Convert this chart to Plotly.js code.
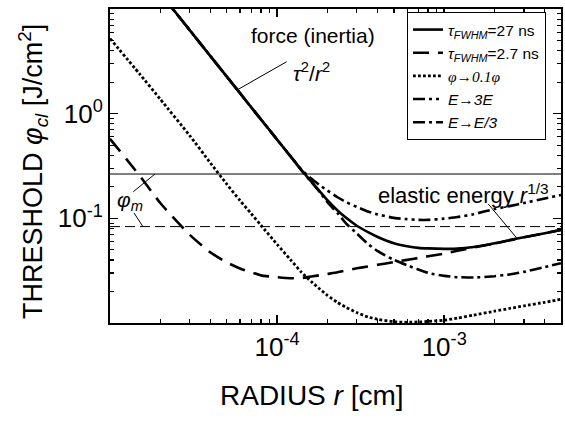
<!DOCTYPE html>
<html>
<head>
<meta charset="utf-8">
<script src="https://cdn.plot.ly/plotly-3.0.1.min.js"></script>
<style>html,body{margin:0;padding:0;background:#fff;}#chart{width:565px;height:421px;}</style>
</head>
<body>
<div id="chart"></div>
<script>
// Radius r [cm]
const radius = [1e-5, 1.5e-5, 2e-5, 3e-5, 4e-5, 5e-5, 6e-5, 7e-5, 8e-5, 1e-4, 1.2e-4, 1.4e-4, 1.6e-4, 1.8e-4, 2e-4, 2.3e-4, 2.6e-4, 3e-4, 3.5e-4, 4e-4, 5e-4, 6e-4, 7e-4, 8e-4, 1e-3, 1.2e-3, 1.5e-3, 2e-3, 2.5e-3, 3e-3, 4e-3, 5e-3];
// Threshold fluence [J/cm^2]
const phiTau27 = [null, 25.1, 14.1, 6.28, 3.53, 2.26, 1.57, 1.15, 0.883, 0.565, 0.393, 0.288, 0.225, 0.181, 0.149, 0.119, 0.1005, 0.0849, 0.0738, 0.0664, 0.0579, 0.0542, 0.0522, 0.0516, 0.0511, 0.0513, 0.0533, 0.0577, 0.0623, 0.0661, 0.0721, 0.0776];
const phiTau2_7 = [0.575, 0.257, 0.140, 0.0695, 0.0471, 0.0379, 0.0332, 0.0305, 0.0285, 0.0274, 0.0268, 0.0269, 0.0278, 0.0286, 0.0294, 0.0305, 0.0318, 0.0333, 0.0347, 0.0360, 0.0382, 0.0401, 0.0418, 0.0434, 0.0460, 0.0489, 0.0525, 0.0575, 0.0619, 0.0659, 0.0720, 0.0775];
const phiTenth = [5.22, 2.41, 1.374, 0.617, 0.336, 0.212, 0.148, 0.1107, 0.0859, 0.0564, 0.0404, 0.0305, 0.0249, 0.0211, 0.01837, 0.0157, 0.01406, 0.01259, 0.01140, 0.01084, 0.01028, 0.01016, 0.01023, 0.01035, 0.01064, 0.01112, 0.01189, 0.01297, 0.01384, 0.01456, 0.01578, 0.01683];
const phiE3E = [null, 25.1, 14.1, 6.28, 3.53, 2.26, 1.57, 1.15, 0.883, 0.565, 0.395, 0.292, 0.240, 0.207, 0.1845, 0.159, 0.142, 0.1285, 0.116, 0.109, 0.101, 0.0982, 0.0966, 0.0966, 0.0993, 0.1028, 0.1096, 0.1227, 0.1315, 0.140, 0.155, 0.167];
const phiEE3 = [null, 25.1, 14.1, 6.28, 3.53, 2.26, 1.57, 1.15, 0.883, 0.565, 0.393, 0.287, 0.223, 0.178, 0.143, 0.112, 0.0887, 0.0716, 0.0569, 0.0486, 0.0401, 0.0356, 0.0324, 0.0301, 0.0282, 0.0274, 0.0272, 0.0280, 0.0292, 0.0308, 0.0342, 0.0373];
// melting thresholds phi_m
const phiM27 = 0.265;
const phiM2_7 = 0.0834;
// axis
const xRange = [1e-5, 5e-3];
const yRange = [0.01, 10];
const xTickVals = [1e-4, 1e-3];
const xTickText = ['10<sup>-4</sup>', '10<sup>-3</sup>'];
const yTickVals = [1, 0.1];
const yTickText = ['10<sup>0</sup>', '10<sup>-1</sup>'];
const xMinor = [2e-5,3e-5,4e-5,5e-5,6e-5,7e-5,8e-5,9e-5,2e-4,3e-4,4e-4,5e-4,6e-4,7e-4,8e-4,9e-4,2e-3,3e-3,4e-3];
const yMinor = [0.02,0.03,0.04,0.05,0.06,0.07,0.08,0.09,0.2,0.3,0.4,0.5,0.6,0.7,0.8,0.9,2,3,4,5,6,7,8,9];
const legendNames = [
  '<i>τ<sub>FWHM</sub></i>=27 ns',
  '<i>τ<sub>FWHM</sub></i>=2.7 ns',
  '<span style="font-family:Liberation Serif"><i>φ→0.1φ</i></span>',
  '<i>E→3E</i>',
  '<i>E→E/3</i>'
];

const FONT = 'Liberation Sans, Arial, sans-serif';
const M = {l:110, r:4, t:9, b:98};
const W = 565, H = 421;
const PW = W - M.l - M.r, PH = H - M.t - M.b;
const PX = x => (x - M.l) / PW;
const PY = y => 1 - (y - M.t) / PH;

const lw = 2.6;
const traces = [
  {x: xRange, y: [phiM27, phiM27], mode:'lines', line:{color:'black', width:1}, showlegend:false, hoverinfo:'skip'},
  {x: xRange, y: [phiM2_7, phiM2_7], mode:'lines', line:{color:'black', width:1, dash:'10px,5px'}, showlegend:false, hoverinfo:'skip'},
  {x: radius, y: phiTau27, name: legendNames[0], mode:'lines', line:{color:'black', width:lw, shape:'spline', smoothing:0.5}},
  {x: radius, y: phiTau2_7, name: legendNames[1], mode:'lines', line:{color:'black', width:lw, dash:'16px,9px', shape:'spline', smoothing:0.5}},
  {x: radius, y: phiTenth, name: legendNames[2], mode:'lines', line:{color:'black', width:2.8, dash:'2.8px,2.2px', shape:'spline', smoothing:0.5}},
  {x: radius, y: phiE3E, name: legendNames[3], mode:'lines', line:{color:'black', width:lw, dash:'12px,4px,3px,4px,3px,4px', shape:'spline', smoothing:0.5}},
  {x: radius, y: phiEE3, name: legendNames[4], mode:'lines', line:{color:'black', width:lw, dash:'12px,4px,3px,4px', shape:'spline', smoothing:0.5}}
];

const axisCommon = {
  showline:true, linewidth:2, linecolor:'black', mirror:'allticks',
  ticks:'inside', ticklen:8, tickwidth:1.5, tickcolor:'black',
  showgrid:false, zeroline:false,
  tickfont:{family:FONT, size:26, color:'black'}
};

const leader = (x0,y0,x1,y1) => ({type:'line', xref:'paper', yref:'paper', x0:PX(x0), y0:PY(y0), x1:PX(x1), y1:PY(y1), line:{color:'black', width:1}});
const note = (text, x, y, size, extra) => Object.assign({text:text, x:PX(x), y:PY(y), xref:'paper', yref:'paper', xanchor:'center', yanchor:'middle', showarrow:false, font:{size:size}}, extra || {});

const layout = {
  width:W, height:H, margin:M,
  paper_bgcolor:'white', plot_bgcolor:'white',
  font:{family:FONT, color:'black'},
  showlegend:true,
  legend:{x:PX(407), y:PY(12), xanchor:'left', yanchor:'top', bordercolor:'black', borderwidth:1, bgcolor:'white',
          font:{family:FONT, size:15.5, color:'black'}, tracegroupgap:0},
  xaxis: Object.assign({}, axisCommon, {
    type:'log', range:[Math.log10(xRange[0]), Math.log10(xRange[1])],
    tickmode:'array', tickvals:xTickVals, ticktext:xTickText,
    minor:{tickmode:'array', tickvals:xMinor, ticks:'inside', ticklen:4, tickwidth:1.2, tickcolor:'black', showgrid:false}
  }),
  yaxis: Object.assign({}, axisCommon, {
    type:'log', range:[Math.log10(yRange[0]), Math.log10(yRange[1])],
    tickmode:'array', tickvals:yTickVals, ticktext:yTickText,
    minor:{tickmode:'array', tickvals:yMinor, ticks:'inside', ticklen:4, tickwidth:1.2, tickcolor:'black', showgrid:false}
  }),
  annotations:[
    note('force (inertia)', 313, 36, 21),
    note('<i>τ</i><sup>2</sup>/<i>r</i><sup>2</sup>', 311, 72, 21),
    note('elastic energy <i>r</i><sup>1/3</sup>', 376, 194, 22, {xanchor:'left'}),
    note('<i>φ<sub>m</sub></i>', 130, 201, 21),
    note('THRESHOLD <i>φ<sub>cl</sub></i> [J/cm<sup>2</sup>]', 33, 172, 27, {textangle:-90}),
    note('RADIUS <i>r</i> [cm]', 312, 395, 28)
  ],
  shapes:[
    leader(238.3, 89.3, 286.7, 61.7),
    leader(488.3, 204, 516.7, 238),
    leader(133.3, 191.7, 155, 174),
    leader(134, 213, 143, 226.7)
  ]
};

Plotly.newPlot('chart', traces, layout, {staticPlot:true, displayModeBar:false});
</script>
</body>
</html>
